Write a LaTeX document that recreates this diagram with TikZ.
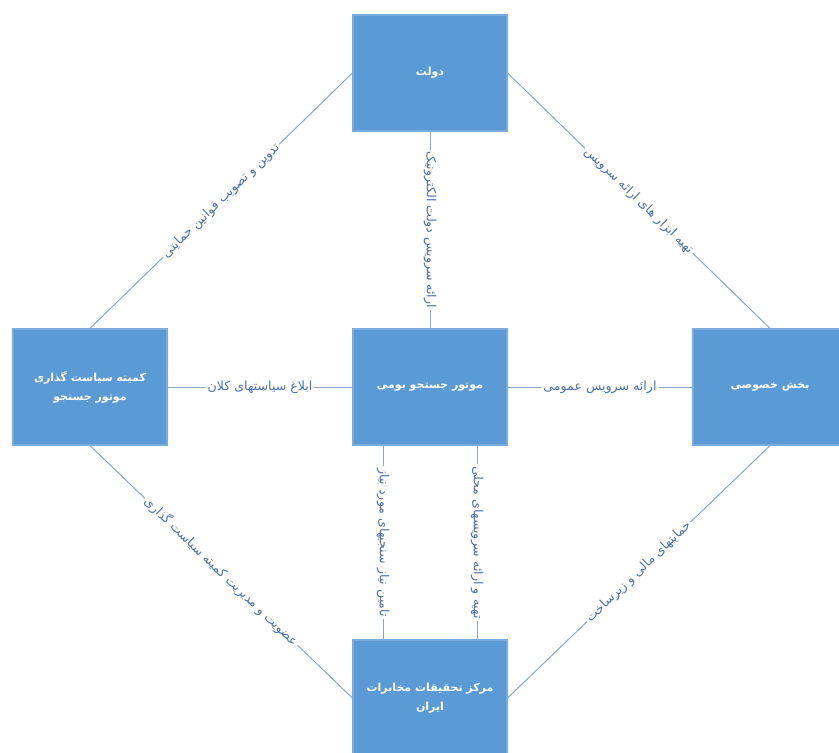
\documentclass[tikz,border=0pt]{standalone}
\usepackage{fontspec}
\newfontfamily\arabicfont[Script=Arabic]{DejaVu Sans}
\TeXXeTstate=1
\definecolor{BoxColor}{RGB}{91,155,213}
\definecolor{BoxEdge}{RGB}{120,172,222}
\definecolor{LinkColor}{RGB}{140,168,198}
\definecolor{LabelColor}{RGB}{78,112,165}
\usetikzlibrary{positioning}
\tikzstyle{box} = [rectangle, fill=BoxColor, draw=BoxEdge, line width=0.6pt, minimum width=77pt, minimum height=58pt, inner sep=0pt, align=center, text=white, font=\arabicfont\fontsize{5.5}{7.5}\selectfont\bfseries]
\tikzstyle{link} = [LinkColor, line width=0.5pt]
\tikzstyle{tag} = [fill=white, inner sep=1pt, text=LabelColor, font=\arabicfont\fontsize{6.3}{7}\selectfont]
\begin{document}
\begin{tikzpicture}[x=0.5pt, y=-0.5pt]
                \useasboundingbox (0,0) rectangle (839,753);

                % Boxes
                \node[box] (gov) at (430,73) {\beginR دولت\endR};
                \node[box] (engine) at (430,387) {\beginR موتور جستجو بومی\endR};
                \node[box] (policy) at (90,387) {\beginR کمیته سیاست گذاری\endR\\[2pt]\beginR موتور جستجو\endR};
                \node[box] (private) at (770,387) {\beginR بخش خصوصی\endR};
                \node[box] (itrc) at (430,698) {\beginR مرکز تحقیقات مخابرات\endR\\[2pt]\beginR ایران\endR};

                % Diagonal links
                \draw[link] (policy.north) -- node[tag, sloped] {\beginR تدوین و تصویب قوانین حمایتی\endR} (gov.west);
                \draw[link] (gov.east) -- node[tag, sloped] {\beginR تهیه ابزار های ارائه سرویس\endR} (private.north);
                \draw[link] (policy.south) -- node[tag, sloped] {\beginR عضویت و مدیریت کمیته سیاست گذاری\endR} (itrc.west);
                \draw[link] (itrc.east) -- node[tag, sloped] {\beginR حمایتهای مالی و زیرساخت\endR} (private.south);

                % Horizontal links
                \draw[link] (policy.east) -- node[tag] {\beginR ابلاغ سیاستهای کلان\endR} (engine.west);
                \draw[link] (engine.east) -- node[tag] {\beginR ارائه سرویس عمومی\endR} (private.west);

                % Vertical links
                \draw[link] (gov.south) -- node[tag, rotate=-90] {\beginR ارائه سرویس دولت الکترونیک\endR} (engine.north);
                \draw[link] ([xshift=-23.5pt]engine.south) -- node[tag, rotate=-90] {\beginR تامین نیاز سنجیهای مورد نیاز\endR} ([xshift=-23.5pt]itrc.north);
                \draw[link] ([xshift=23.5pt]engine.south) -- node[tag, rotate=-90] {\beginR تهیه و ارائه سرویسهای محلی\endR} ([xshift=23.5pt]itrc.north);
            \end{tikzpicture}
\end{document}
